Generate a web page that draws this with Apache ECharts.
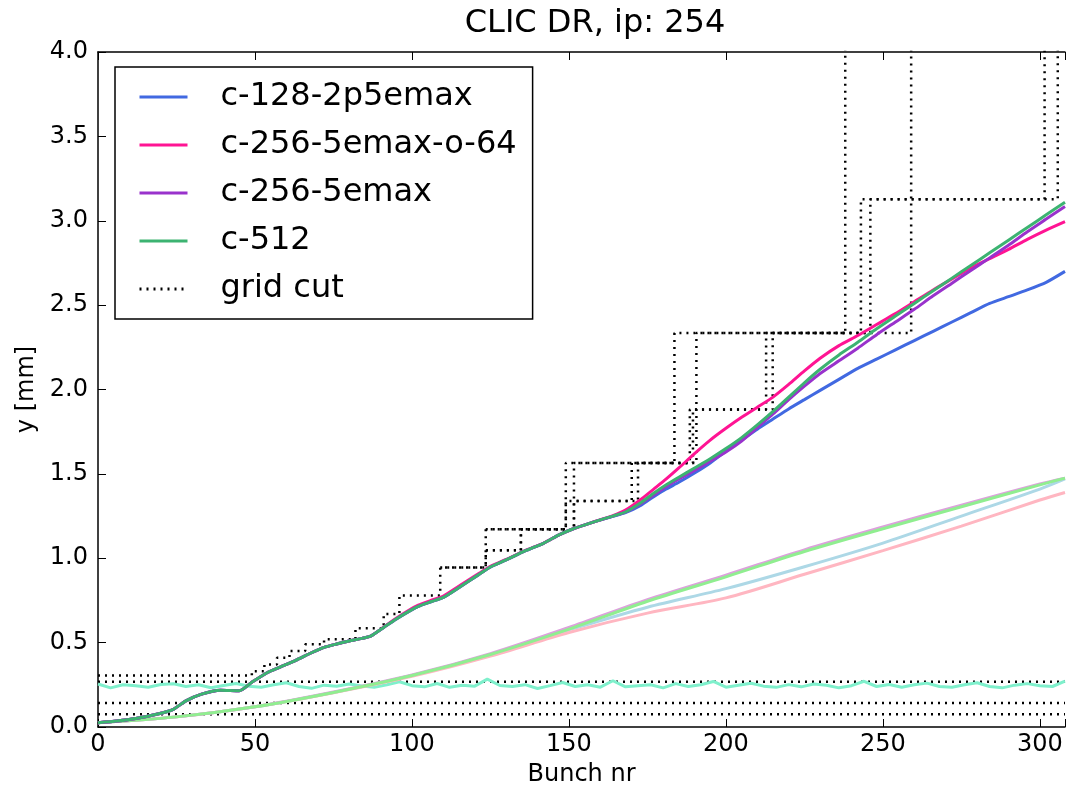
<!DOCTYPE html>
<html>
<head>
<meta charset="utf-8">
<script src="https://cdn.jsdelivr.net/npm/echarts@6/dist/echarts.min.js"></script>
<style>
  html, body { margin: 0; padding: 0; background: #fff; }
  #chart { width: 1068px; height: 792px; }
</style>
</head>
<body>
<div id="chart"></div>
<script>
'use strict';

// bunch numbers for the main (vertical size) curves
var bunchX = [0, 6, 12, 19, 24, 28, 33, 39, 45, 49, 54, 58, 63, 68, 72, 76, 80, 84, 87, 91,
    95, 99, 102, 106, 110, 115, 121, 125, 130, 136, 142, 147, 151, 157, 164, 168, 173, 177, 181, 185,
    190, 195, 200, 205, 210, 215, 220, 225, 230, 236, 242, 248, 254, 260, 266, 272, 278, 284, 290, 296, 302, 308];

var c128 = [0.025, 0.035, 0.05, 0.077, 0.105, 0.155, 0.195, 0.218, 0.215, 0.265, 0.323, 0.355, 0.395, 0.44, 0.472, 0.492, 0.51, 0.525, 0.54, 0.59,
    0.64, 0.685, 0.715, 0.742, 0.768, 0.827, 0.9, 0.948, 0.99, 1.043, 1.09, 1.14, 1.172, 1.21, 1.248, 1.27, 1.315, 1.365, 1.41, 1.45,
    1.505, 1.565, 1.635, 1.70, 1.765, 1.825, 1.885, 1.94, 1.995, 2.06, 2.125, 2.18, 2.235, 2.29, 2.345, 2.40, 2.455, 2.51, 2.55, 2.59, 2.635, 2.70];
var c256o64 = [0.025, 0.035, 0.05, 0.077, 0.105, 0.155, 0.195, 0.218, 0.215, 0.265, 0.323, 0.355, 0.395, 0.44, 0.472, 0.492, 0.51, 0.525, 0.54, 0.592,
    0.645, 0.692, 0.722, 0.75, 0.776, 0.835, 0.906, 0.952, 0.993, 1.045, 1.09, 1.14, 1.172, 1.21, 1.252, 1.285, 1.35, 1.41, 1.47, 1.535,
    1.62, 1.70, 1.77, 1.835, 1.895, 1.955, 2.03, 2.11, 2.185, 2.26, 2.32, 2.385, 2.45, 2.52, 2.59, 2.655, 2.72, 2.775, 2.83, 2.89, 2.945, 2.995];
var c256 = [0.025, 0.035, 0.05, 0.077, 0.105, 0.155, 0.195, 0.218, 0.215, 0.265, 0.323, 0.355, 0.395, 0.44, 0.472, 0.492, 0.51, 0.525, 0.54, 0.59,
    0.64, 0.685, 0.715, 0.742, 0.768, 0.827, 0.9, 0.948, 0.99, 1.043, 1.09, 1.14, 1.172, 1.21, 1.25, 1.274, 1.325, 1.375, 1.425, 1.47,
    1.52, 1.575, 1.63, 1.695, 1.775, 1.855, 1.94, 2.02, 2.095, 2.17, 2.245, 2.325, 2.4, 2.475, 2.555, 2.63, 2.705, 2.78, 2.855, 2.935, 3.01, 3.085];
var c512 = [0.025, 0.035, 0.05, 0.077, 0.105, 0.155, 0.195, 0.218, 0.215, 0.265, 0.323, 0.355, 0.395, 0.44, 0.472, 0.492, 0.51, 0.525, 0.54, 0.59,
    0.64, 0.685, 0.715, 0.742, 0.768, 0.827, 0.9, 0.948, 0.99, 1.043, 1.09, 1.14, 1.172, 1.21, 1.25, 1.274, 1.33, 1.385, 1.435, 1.48,
    1.535, 1.59, 1.65, 1.715, 1.79, 1.87, 1.955, 2.04, 2.12, 2.205, 2.28, 2.36, 2.435, 2.51, 2.585, 2.66, 2.735, 2.81, 2.885, 2.96, 3.035, 3.11];

// pale curves (same simulations, other plane)
var paleX = [0, 25, 50, 75, 100, 125, 150, 175, 200, 225, 250, 275, 300, 308];
var pale128 = [0.025, 0.06, 0.12, 0.205, 0.305, 0.43, 0.575, 0.71, 0.82, 0.95, 1.09, 1.25, 1.41, 1.47];
var pale256o64 = [0.025, 0.06, 0.12, 0.203, 0.30, 0.42, 0.56, 0.675, 0.765, 0.905, 1.045, 1.19, 1.345, 1.39];
var pale256 = [0.025, 0.06, 0.12, 0.207, 0.308, 0.435, 0.59, 0.755, 0.90, 1.05, 1.185, 1.315, 1.44, 1.475];
var pale512 = [0.025, 0.06, 0.12, 0.205, 0.305, 0.43, 0.58, 0.745, 0.89, 1.04, 1.175, 1.305, 1.435, 1.475];

// noisy line, one value every noiseStep bunches
var noiseStep = 4;
var noiseY = [0.255, 0.232, 0.250, 0.245, 0.236, 0.252, 0.256, 0.240, 0.250, 0.233, 0.246, 0.258, 0.241,
    0.236, 0.250, 0.262, 0.240, 0.229, 0.248, 0.241, 0.255, 0.243, 0.235, 0.250, 0.268, 0.245,
    0.238, 0.258, 0.235, 0.248, 0.242, 0.284, 0.246, 0.240, 0.251, 0.228, 0.245, 0.264, 0.240,
    0.250, 0.236, 0.274, 0.238, 0.245, 0.250, 0.232, 0.257, 0.240, 0.250, 0.270, 0.236, 0.248,
    0.259, 0.242, 0.235, 0.251, 0.238, 0.255, 0.247, 0.232, 0.245, 0.271, 0.240, 0.252, 0.236,
    0.250, 0.260, 0.240, 0.235, 0.250, 0.262, 0.240, 0.232, 0.248, 0.257, 0.244, 0.240, 0.272];

// grid cut staircases
var gc1X = [0, 49, 49, 53, 53, 57, 57, 61, 61, 66, 66, 72, 72, 82, 82, 91, 91, 96, 96, 109, 109, 123.5, 123.5, 149, 149, 183.6, 183.6, 238, 238];
var gc1Y = [0.305, 0.305, 0.33, 0.33, 0.37, 0.37, 0.41, 0.41, 0.45, 0.45, 0.49, 0.49, 0.52, 0.52, 0.585, 0.585, 0.67, 0.67, 0.78, 0.78, 0.945, 0.945, 1.172, 1.172, 1.565, 1.565, 2.335, 2.335, 4.5];
var gc2X = [109, 123.5, 123.5, 134.7, 134.7, 151.6, 151.6, 170, 170, 188.5, 188.5, 212.8, 212.8, 259, 259];
var gc2Y = [0.945, 0.945, 1.047, 1.047, 1.172, 1.172, 1.339, 1.339, 1.565, 1.565, 1.882, 1.882, 2.335, 2.335, 4.5];
var gc3X = [123.5, 134.7, 134.7, 149, 149, 172, 172, 190.6, 190.6, 243, 243, 301.5, 301.5];
var gc3Y = [1.047, 1.047, 1.172, 1.172, 1.339, 1.339, 1.565, 1.565, 2.335, 2.335, 3.128, 3.128, 4.5];
var gc4X = [123.5, 151.6, 151.6, 189.5, 189.5, 214.9, 214.9, 246, 246, 305.7, 305.7];
var gc4Y = [1.172, 1.172, 1.565, 1.565, 1.882, 1.882, 2.335, 2.335, 3.128, 3.128, 4.5];
var cutLevels = [0.268, 0.142, 0.075];

var xTicks = [0, 50, 100, 150, 200, 250, 300];
var yTicks = ['0.0', '0.5', '1.0', '1.5', '2.0', '2.5', '3.0', '3.5', '4.0'];

function pairs(xs, ys) {
    var out = [];
    for (var i = 0; i < ys.length; i++) {
        out.push([xs[i], ys[i]]);
    }
    return out;
}

var FONT = 'DejaVu Sans';
var series = [];

function dotted(data) {
    series.push({
        name: 'grid cut', type: 'line', data: data, symbol: 'none',
        itemStyle: { color: '#000' },
        lineStyle: { color: '#000', width: 2.5, type: [2, 5] }, z: 1
    });
}
dotted(pairs(gc1X, gc1Y));
dotted(pairs(gc2X, gc2Y));
dotted(pairs(gc3X, gc3Y));
dotted(pairs(gc4X, gc4Y));
for (var k = 0; k < cutLevels.length; k++) {
    dotted([[0, cutLevels[k]], [308, cutLevels[k]]]);
}

var noiseData = [];
for (var j = 0; j < noiseY.length; j++) {
    noiseData.push([j * noiseStep, noiseY[j]]);
}
series.push({
    name: 'noise', type: 'line', data: noiseData, symbol: 'none',
    lineStyle: { color: '#7ff0cc', width: 3 }, z: 2
});

var pale = [
    ['pale128', pale128, '#add8e6'],
    ['pale256o64', pale256o64, '#ffb6c1'],
    ['pale256', pale256, '#dda0dd'],
    ['pale512', pale512, '#90ee90']
];
pale.forEach(function (p) {
    series.push({
        name: p[0], type: 'line', data: pairs(paleX, p[1]), symbol: 'none', smooth: 0.3,
        lineStyle: { color: p[2], width: 3 }, z: 3
    });
});

var main = [
    ['c-128-2p5emax', c128, '#4169e1'],
    ['c-256-5emax-o-64', c256o64, '#ff1493'],
    ['c-256-5emax', c256, '#9932cc'],
    ['c-512', c512, '#3cb371']
];
main.forEach(function (m) {
    series.push({
        name: m[0], type: 'line', data: pairs(bunchX, m[1]), symbol: 'none', smooth: 0.2,
        itemStyle: { color: m[2] },
        lineStyle: { color: m[2], width: 3 }, z: 4
    });
});

var myChart = echarts.init(document.getElementById('chart'), null, { renderer: 'canvas' });
var option = {
    animation: false,
    backgroundColor: '#fff',
    textStyle: { fontFamily: FONT },
    title: {
        text: 'CLIC DR, ip: 254',
        left: 590, top: 3, textAlign: 'center',
        textStyle: { fontFamily: FONT, fontSize: 32, fontWeight: 'normal', color: '#000' }
    },
    legend: {
        orient: 'vertical', left: 115, top: 67,
        data: ['c-128-2p5emax', 'c-256-5emax-o-64', 'c-256-5emax', 'c-512', 'grid cut'],
        backgroundColor: '#fff', borderColor: '#000', borderWidth: 1.5, borderRadius: 0,
        padding: [11, 16, 11, 23],
        itemWidth: 48, itemHeight: 14, itemGap: 10,
        itemStyle: { opacity: 0 },
        lineStyle: { width: 3 },
        textStyle: { fontFamily: FONT, fontSize: 32, color: '#000', lineHeight: 38, padding: [0, 0, 0, 28] }
    },
    grid: { left: 98, right: 0, top: 52, bottom: 64, containLabel: false },
    xAxis: [{
        type: 'value', min: 0, max: 308, interval: 50,
        name: 'Bunch nr', nameLocation: 'middle', nameGap: 36,
        nameTextStyle: { fontFamily: FONT, fontSize: 24, color: '#000' },
        axisLine: { lineStyle: { color: '#000', width: 1.5 } },
        axisTick: { inside: true, length: 8, lineStyle: { color: '#000' } },
        axisLabel: {
            fontFamily: FONT, fontSize: 24, color: '#000', margin: 6,
            formatter: function (v) { return xTicks.indexOf(v) >= 0 ? String(v) : ''; }
        },
        splitLine: { show: false }
    }, {
        type: 'value', min: 0, max: 308, interval: 50, position: 'top',
        axisLine: { lineStyle: { color: '#000', width: 1.5 } },
        axisTick: { inside: true, length: 8, lineStyle: { color: '#000' } },
        axisLabel: { show: false },
        splitLine: { show: false }
    }],
    yAxis: {
        type: 'value', min: 0, max: 4, interval: 0.5,
        name: 'y [mm]', nameLocation: 'middle', nameGap: 56, nameRotate: 90,
        nameTextStyle: { fontFamily: FONT, fontSize: 24, color: '#000' },
        axisLine: { lineStyle: { color: '#000', width: 1.5 } },
        axisTick: { inside: true, length: 8, lineStyle: { color: '#000' } },
        axisLabel: {
            fontFamily: FONT, fontSize: 24, color: '#000', margin: 10,
            formatter: function (v) { return yTicks[Math.round(v * 2)]; }
        },
        splitLine: { show: false }
    },
    series: series
};
myChart.setOption(option);
</script>
</body>
</html>
